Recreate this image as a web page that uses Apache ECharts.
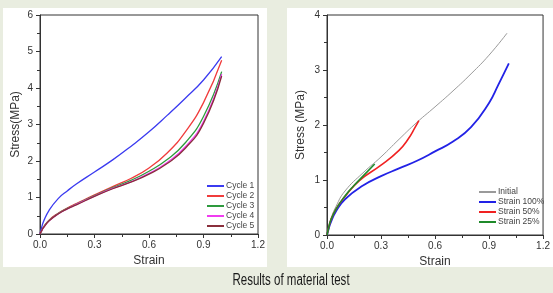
<!DOCTYPE html>
<html>
<head>
<meta charset="utf-8">
<script src="https://cdn.jsdelivr.net/npm/echarts@6/dist/echarts.min.js"></script>
<style>
  html, body { margin: 0; padding: 0; background: #e9ede0; }
  #main { width: 553px; height: 293px; }
</style>
</head>
<body>
<div id="main"></div>
<script>
// 左图：循环加载 (strain, stress)
const cycle1 = [[0,0],[0.01,0.2],[0.02,0.35],[0.05,0.65],[0.1,0.97],[0.15,1.18],[0.2,1.37],[0.3,1.7],[0.4,2.03],[0.5,2.4],[0.6,2.8],[0.7,3.25],[0.8,3.72],[0.9,4.22],[1.0,4.86]]
const cycle2 = [[0,0],[0.01,0.1],[0.02,0.19],[0.05,0.38],[0.1,0.57],[0.15,0.71],[0.2,0.83],[0.3,1.07],[0.4,1.3],[0.5,1.52],[0.6,1.81],[0.7,2.22],[0.8,2.8],[0.9,3.6],[1.0,4.76]]
const cycle3 = [[0,0],[0.01,0.1],[0.02,0.19],[0.05,0.37],[0.1,0.56],[0.15,0.7],[0.2,0.82],[0.3,1.05],[0.4,1.27],[0.5,1.47],[0.6,1.72],[0.7,2.04],[0.8,2.5],[0.9,3.22],[1.0,4.45]]
const cycle4 = [[0,0],[0.01,0.1],[0.02,0.18],[0.05,0.36],[0.1,0.55],[0.15,0.69],[0.2,0.81],[0.3,1.04],[0.4,1.25],[0.5,1.43],[0.6,1.66],[0.7,1.96],[0.8,2.39],[0.9,3.08],[1.0,4.38]]
const cycle5 = [[0,0],[0.01,0.1],[0.02,0.18],[0.05,0.36],[0.1,0.55],[0.15,0.69],[0.2,0.8],[0.3,1.03],[0.4,1.24],[0.5,1.42],[0.6,1.64],[0.7,1.93],[0.8,2.35],[0.9,3.03],[1.0,4.33]]

// 右图：不同应变
const initial = [[0,0],[0.01,0.15],[0.02,0.28],[0.05,0.52],[0.1,0.8],[0.2,1.13],[0.3,1.42],[0.4,1.74],[0.5,2.05],[0.6,2.33],[0.7,2.62],[0.8,2.93],[0.9,3.27],[1.0,3.67]]
const strain100 = [[0,0],[0.01,0.12],[0.02,0.22],[0.05,0.43],[0.1,0.65],[0.2,0.9],[0.3,1.07],[0.4,1.21],[0.5,1.35],[0.6,1.52],[0.7,1.7],[0.8,1.96],[0.9,2.4],[0.95,2.72],[1.01,3.12]]
const strain50 = [[0,0],[0.01,0.14],[0.02,0.26],[0.05,0.47],[0.1,0.7],[0.18,0.99],[0.3,1.27],[0.4,1.54],[0.45,1.74],[0.49,1.96],[0.51,2.08]]
const strain25 = [[0,0],[0.01,0.14],[0.02,0.26],[0.05,0.47],[0.1,0.71],[0.15,0.9],[0.2,1.07],[0.265,1.29]]

const leftNames = ['Cycle 1', 'Cycle 2', 'Cycle 3', 'Cycle 4', 'Cycle 5']
const rightNames = ['Initial', 'Strain 100%', 'Strain 50%', 'Strain 25%']

let chart = echarts.init(document.getElementById('main'))

function xAxisCfg (grid) {
  return {
    gridIndex: grid, type: 'value', min: 0, max: 1.2, interval: 0.3,
    name: 'Strain', nameLocation: 'middle', nameGap: 20,
    nameTextStyle: { fontSize: 12, color: '#333', fontFamily: 'Liberation Sans' },
    axisLine: { lineStyle: { color: '#333', width: 1 } },
    axisTick: { show: true, length: 4, inside: false, lineStyle: { color: '#333' } },
    minorTick: { show: true, splitNumber: 2, length: 3, lineStyle: { color: '#333' } },
    axisLabel: { fontSize: 10, color: '#333', margin: 6, fontFamily: 'Liberation Sans', formatter: v => v.toFixed(1) },
    splitLine: { show: false }
  }
}
function yAxisCfg (grid, max, name, gap) {
  return {
    gridIndex: grid, type: 'value', min: 0, max: max, interval: 1,
    name: name, nameLocation: 'middle', nameGap: gap,
    nameTextStyle: { fontSize: 12, color: '#333', fontFamily: 'Liberation Sans' },
    axisLine: { lineStyle: { color: '#333', width: 1 } },
    axisTick: { show: true, length: 4, lineStyle: { color: '#333' } },
    minorTick: { show: true, splitNumber: 2, length: 3, lineStyle: { color: '#333' } },
    axisLabel: { fontSize: 10, color: '#333', margin: 7, fontFamily: 'Liberation Sans' },
    splitLine: { show: false }
  }
}
function line (name, data, color, width, x, y) {
  return {
    name: name, type: 'line', data: data, xAxisIndex: x, yAxisIndex: y,
    smooth: 0.5, showSymbol: false, symbol: 'none',
    lineStyle: { color: color, width: width }, itemStyle: { color: color }
  }
}

let option = {
  animation: false,
  backgroundColor: '#e9ede0',
  graphic: [
    { type: 'rect', shape: { x: 3, y: 8, width: 264, height: 259 }, style: { fill: '#fff' }, z: -10 },
    { type: 'rect', shape: { x: 287, y: 8, width: 266, height: 259 }, style: { fill: '#fff' }, z: -10 },
    {
      type: 'text', x: 291, y: 281, scaleX: 0.72,
      style: { text: 'Results of material test', x: 0, y: 0, align: 'center', verticalAlign: 'middle', fontSize: 16, fill: '#1a1a1a', fontFamily: 'Liberation Sans' }
    }
  ],
  grid: [
    { left: 40, top: 15, width: 218, height: 219, show: true, borderColor: '#333', borderWidth: 1, backgroundColor: 'transparent' },
    { left: 327, top: 15, width: 220, height: 220, show: true, borderColor: '#333', borderWidth: 1, backgroundColor: 'transparent' }
  ],
  legend: [
    {
      data: leftNames, left: 207, top: 181, orient: 'vertical', icon: 'rect', itemWidth: 17, itemHeight: 2,
      itemGap: 0, textStyle: { fontSize: 8.5, color: '#444', lineHeight: 10, padding: [0, 0, 0, -3] }, padding: 0
    },
    {
      data: rightNames, left: 479, top: 187, orient: 'vertical', icon: 'rect', itemWidth: 17, itemHeight: 2,
      itemGap: 0, textStyle: { fontSize: 8.5, color: '#444', lineHeight: 10, padding: [0, 0, 0, -3] }, padding: 0
    }
  ],
  xAxis: [xAxisCfg(0), xAxisCfg(1)],
  yAxis: [yAxisCfg(0, 6, 'Stress(MPa)', 18), yAxisCfg(1, 4, 'Stress (MPa)', 20)],
  series: [
    line('Cycle 1', cycle1, '#3b3bf0', 1.3, 0, 0),
    line('Cycle 2', cycle2, '#f03c3c', 1.3, 0, 0),
    line('Cycle 3', cycle3, '#2e9a3e', 1.3, 0, 0),
    line('Cycle 4', cycle4, '#f03cf0', 1.3, 0, 0),
    line('Cycle 5', cycle5, '#8a2f3c', 1.3, 0, 0),
    line('Initial', initial, '#9a9a9a', 1, 1, 1),
    line('Strain 100%', strain100, '#2222e6', 1.8, 1, 1),
    line('Strain 50%', strain50, '#f02222', 1.6, 1, 1),
    line('Strain 25%', strain25, '#1f8a2a', 1.6, 1, 1)
  ]
}
option && chart.setOption(option)
</script>
</body>
</html>
